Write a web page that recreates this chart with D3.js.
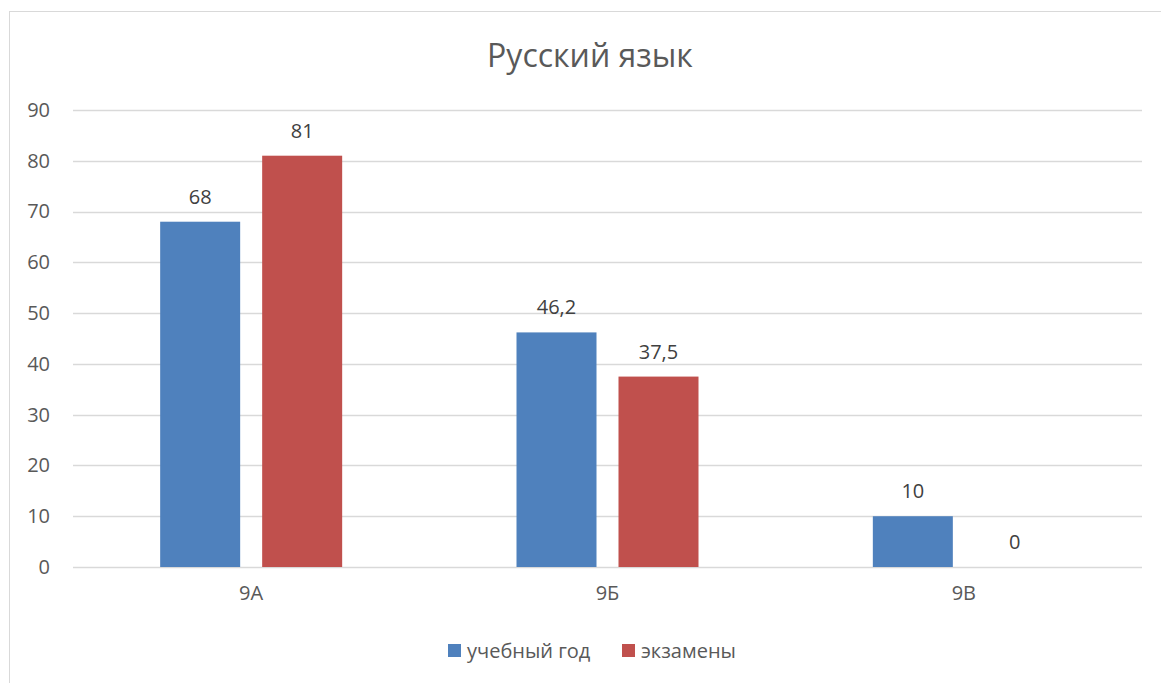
<!DOCTYPE html>
<html><head><meta charset="utf-8">
<script src="https://cdn.jsdelivr.net/npm/d3@7"></script>
<style>
body{margin:0;background:#fff;}
svg{display:block;font-family:"Open Sans",sans-serif;}
</style></head>
<body><svg id="c" width="1161" height="683"></svg>
<script>
const categories = ["9А", "9Б", "9В"];
const seriesNames = ["учебный год", "экзамены"];
const studyYear = [68, 46.2, 10];
const exams = [81, 37.5, 0];
const yTicks = [0, 10, 20, 30, 40, 50, 60, 70, 80, 90];
const colors = ["#4f81bd", "#c0504d"];
const title = "Русский язык";

const svg = d3.select("#c");
svg.append("rect").attr("x",9.5).attr("y",11.5).attr("width",1170).attr("height",700)
  .attr("fill","#fff").attr("stroke","#d9d9d9").attr("stroke-width",1);

const x0 = 73, x1 = 1142, yTop = 110, yBot = 567;
const y = d3.scaleLinear().domain([0,90]).range([yBot, yTop]);
const x = d3.scaleBand().domain(categories).range([x0, x1]);
const barW = 80, gap = 22;
const xs = d3.scaleBand().domain(seriesNames).range([-(barW + gap/2), barW + gap/2]).paddingInner(gap/(barW+gap));

// gridlines
svg.append("g").selectAll("line").data(yTicks).join("line")
  .attr("x1",x0).attr("x2",x1).attr("y1",d=>Math.round(y(d))+0.5).attr("y2",d=>Math.round(y(d))+0.5)
  .attr("stroke","#d9d9d9").attr("stroke-width",1.3);

// y labels
const yAxis = d3.axisLeft(y).tickValues(yTicks).tickSize(0).tickPadding(0);
const ga = svg.append("g").attr("transform","translate(50,0)").call(yAxis);
ga.select(".domain").remove();
ga.selectAll("text").attr("fill","#595959").attr("font-size","20px").attr("font-family","Open Sans, sans-serif");

// x labels
const xAxis = d3.axisBottom(x).tickSize(0).tickPadding(0);
const gx = svg.append("g").attr("transform","translate(0,586)").call(xAxis);
gx.select(".domain").remove();
gx.selectAll("text").attr("fill","#595959").attr("font-size","20px").attr("font-family","Open Sans, sans-serif");

const series = [studyYear, exams];
series.forEach((vals, si) => {
  const g = svg.append("g");
  g.selectAll("rect").data(vals).join("rect")
    .attr("x",(d,i)=>x(categories[i]) + x.bandwidth()/2 + xs(seriesNames[si]))
    .attr("width", xs.bandwidth())
    .attr("y", d=>y(d)).attr("height", d=>yBot - y(d))
    .attr("fill", colors[si]);
  g.selectAll("text").data(vals).join("text")
    .attr("x",(d,i)=>x(categories[i]) + x.bandwidth()/2 + xs(seriesNames[si]) + xs.bandwidth()/2)
    .attr("y", d=>y(d) - 18)
    .attr("text-anchor","middle").attr("font-size","20px").attr("fill","#404040")
    .text(d=>String(d).replace(".", ","));
});

svg.append("text").attr("x",590).attr("y",67).attr("text-anchor","middle")
  .attr("font-size","32px").attr("fill","#595959").text(title);

// legend
const legX = [448, 622];
seriesNames.forEach((n,i)=>{
  svg.append("rect").attr("x",legX[i]).attr("y",644).attr("width",13).attr("height",13).attr("fill",colors[i]);
  svg.append("text").attr("x",legX[i]+19).attr("y",658).attr("font-size","20px").attr("fill","#595959").text(n);
});
</script></body></html>
